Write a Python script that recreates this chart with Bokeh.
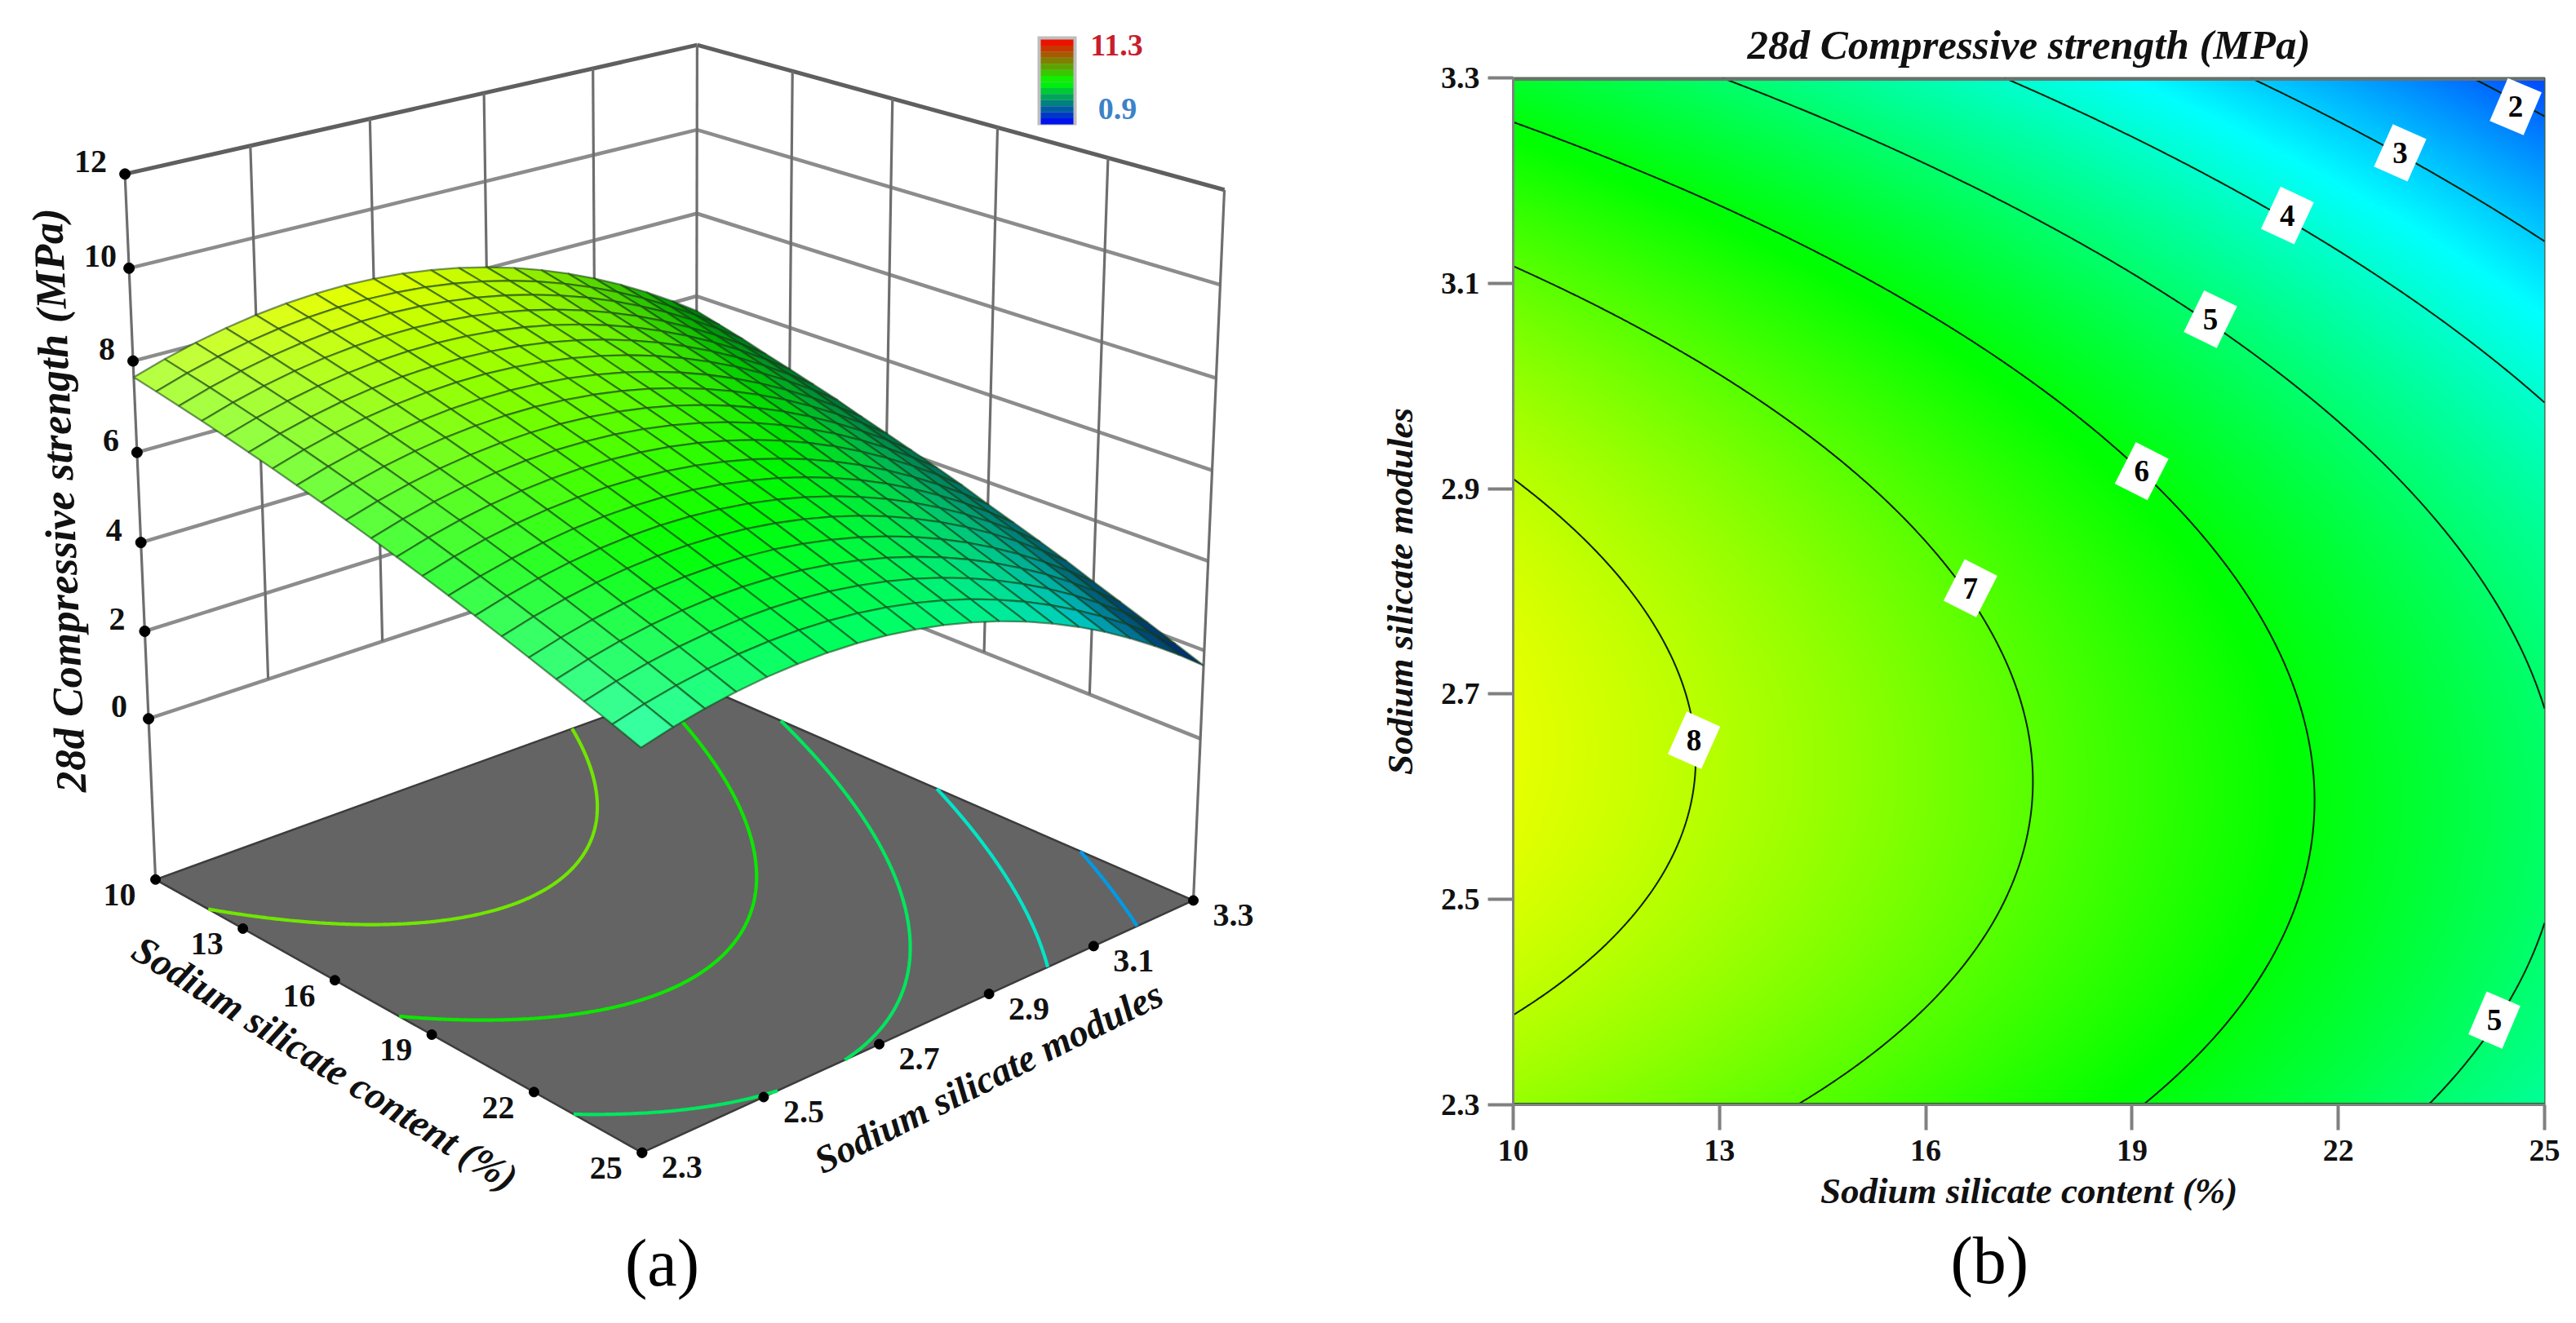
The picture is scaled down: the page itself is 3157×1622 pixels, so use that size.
import numpy as np
from bokeh.core.properties import value
from bokeh.embed import file_html
from bokeh.layouts import row
from bokeh.models import ColumnDataSource, FixedTicker, NumeralTickFormatter, Range1d, Title
from bokeh.plotting import figure
from bokeh.plotting.contour import contour_data
from bokeh.resources import INLINE

# ---------------- data ----------------
content_ticks = [10, 13, 16, 19, 22, 25]
modules_ticks = [2.3, 2.5, 2.7, 2.9, 3.1, 3.3]
strength_ticks = [0, 2, 4, 6, 8, 10, 12]
content_grid = [10 + 0.75 * k for k in range(21)]
modules_grid = [2.3 + 0.05 * j for j in range(21)]
# one row per modules value (2.30 ... 3.30), one column per content value (10 ... 25)
strength_rows = [
 [7.646,7.540,7.430,7.314,7.193,7.066,6.935,6.798,6.657,6.509,6.357,6.199,6.037,5.868,5.695,5.517,5.333,5.144,4.950,4.751,4.546],
 [7.860,7.752,7.640,7.521,7.398,7.269,7.136,6.996,6.853,6.703,6.549,6.389,6.224,6.053,5.878,5.698,5.511,5.320,5.124,4.923,4.716],
 [8.041,7.931,7.817,7.695,7.570,7.439,7.304,7.161,7.016,6.864,6.708,6.546,6.378,6.205,6.028,5.846,5.656,5.463,5.265,5.062,4.853],
 [8.189,8.077,7.961,7.836,7.709,7.576,7.439,7.293,7.146,6.992,6.834,6.670,6.499,6.324,6.145,5.961,5.768,5.573,5.373,5.168,4.957],
 [8.304,8.190,8.072,7.944,7.815,7.680,7.541,7.392,7.243,7.087,6.927,6.761,6.587,6.410,6.229,6.043,5.847,5.650,5.448,5.241,5.028],
 [8.386,8.270,8.150,8.019,7.888,7.751,7.610,7.458,7.307,7.149,6.987,6.819,6.642,6.463,6.280,6.092,5.893,5.694,5.490,5.281,5.066],
 [8.435,8.317,8.195,8.061,7.928,7.789,7.646,7.491,7.338,7.178,7.014,6.844,6.664,6.483,6.298,6.108,5.906,5.705,5.499,5.288,5.071],
 [8.451,8.331,8.207,8.070,7.935,7.794,7.649,7.491,7.336,7.174,7.008,6.836,6.653,6.470,6.283,6.091,5.886,5.683,5.475,5.262,5.043],
 [8.433,8.311,8.185,8.045,7.908,7.765,7.618,7.457,7.300,7.136,6.968,6.794,6.608,6.423,6.234,6.040,5.832,5.627,5.417,5.202,4.981],
 [8.382,8.258,8.130,7.987,7.848,7.703,7.554,7.390,7.231,7.065,6.895,6.719,6.530,6.343,6.152,5.956,5.745,5.538,5.326,5.109,4.886],
 [8.298,8.172,8.042,7.896,7.755,7.608,7.457,7.290,7.129,6.961,6.789,6.611,6.419,6.230,6.037,5.839,5.625,5.416,5.202,4.983,4.758],
 [8.181,8.053,7.921,7.772,7.629,7.480,7.327,7.157,6.994,6.824,6.650,6.470,6.275,6.084,5.889,5.689,5.472,5.261,5.045,4.824,4.597],
 [8.031,7.901,7.767,7.615,7.470,7.319,7.164,6.991,6.826,6.654,6.478,6.296,6.098,5.905,5.708,5.506,5.286,5.073,4.855,4.632,4.403],
 [7.848,7.716,7.580,7.425,7.278,7.125,6.968,6.792,6.625,6.451,6.273,6.089,5.888,5.693,5.494,5.290,5.067,4.852,4.632,4.407,4.176],
 [7.632,7.498,7.360,7.202,7.053,6.898,6.739,6.560,6.391,6.215,6.035,5.849,5.645,5.448,5.247,5.041,4.815,4.598,4.376,4.149,3.916],
 [7.383,7.247,7.107,6.946,6.795,6.638,6.477,6.295,6.124,5.946,5.764,5.576,5.369,5.170,4.967,4.759,4.530,4.311,4.087,3.858,3.623],
 [7.101,6.963,6.821,6.657,6.504,6.345,6.182,5.997,5.824,5.644,5.460,5.270,5.060,4.859,4.654,4.444,4.212,3.991,3.765,3.534,3.297],
 [6.785,6.645,6.501,6.334,6.179,6.018,5.853,5.665,5.490,5.308,5.122,4.930,4.717,4.514,4.307,4.095,3.860,3.637,3.409,3.176,2.937],
 [6.436,6.294,6.148,5.978,5.821,5.658,5.491,5.300,5.123,4.939,4.751,4.557,4.341,4.136,3.927,3.713,3.475,3.250,3.020,2.785,2.544],
 [6.054,5.910,5.762,5.589,5.430,5.265,5.096,4.902,4.723,4.537,4.347,4.151,3.932,3.725,3.514,3.298,3.057,2.830,2.598,2.361,2.118],
 [5.639,5.493,5.343,5.167,5.006,4.839,4.668,4.471,4.290,4.102,3.910,3.712,3.490,3.281,3.068,2.850,2.606,2.377,2.143,1.904,1.659],
]
contour_levels = [2, 3, 4, 5, 6, 7, 8]
floor_levels = [2.65, 3.85, 5.05, 6.25, 7.38]
label_text = ["2", "3", "4", "5", "6", "7", "8", "5"]
label_content = [24.58, 22.90, 21.26, 20.14, 19.14, 16.65, 12.63, 24.27]
label_modules = [3.272, 3.227, 3.166, 3.065, 2.917, 2.803, 2.655, 2.3825]
label_tilt = [23, 24, 25, 26, 27, 27, 24, 23]
scale_min, scale_max = 0.9, 11.3

SERIF = value("Liberation Serif")
LEFT_W, RIGHT_W, H = 1568, 1588, 1620

z_table = np.array(strength_rows)
c_arr = np.array(content_grid)
m_arr = np.array(modules_grid)


def rainbow(z):
    t = np.clip((np.asarray(z, float) - scale_min) / (scale_max - scale_min), 0, 1)
    r = np.clip((t - 0.5) / 0.25, 0, 1) * (t < 0.75) + (t >= 0.75)
    g = np.where(t < 0.25, t / 0.25, np.where(t > 0.75, (1 - t) / 0.25, 1.0))
    b = np.clip((0.5 - t) / 0.25, 0, 1) * (t > 0.25) + (t <= 0.25)
    return np.stack([r, g, b], axis=-1) * 255


def hexcol(rgb):
    return "#%02x%02x%02x" % tuple(int(round(float(np.clip(v, 0, 255)))) for v in rgb)


# smooth response surface through the table: only used to shade and to trace contours finely
cc, mm = np.meshgrid(c_arr, m_arr)
def basis(c, m):
    d, e = c - 10, m - 2.65
    return np.stack([np.ones_like(d), d, e, d * d, d * e, e * e], axis=-1)
coef, *_ = np.linalg.lstsq(basis(cc, mm).reshape(-1, 6), z_table.ravel(), rcond=None)
fine_c = np.linspace(10, 25, 421)
fine_m = np.linspace(2.3, 3.3, 421)
fc, fm = np.meshgrid(fine_c, fine_m)
fine_z = basis(fc, fm) @ coef

# ---------------- camera of the 3D panel ----------------
cal_world = np.array([
    [10, 2.3, 12], [10, 2.3, 0], [10, 2.3, -3.75],
    [25, 3.3, 12], [25, 3.3, 0], [25, 3.3, -3.75],
    [10, 3.3, 12], [10, 3.3, 6], [10, 3.3, -3.75],
    [25, 2.3, -3.75], [25, 2.3, 4.55], [10, 2.3, 7.65], [25, 3.3, 1.66],
], float)
cal_view = np.array([
    [149, 218], [182, 875], [192, 1080],
    [1505, 236], [1470, 900], [1460, 1107],
    [853, 57], [853, 356], [854, 843],
    [786, 1416], [786, 914], [164, 459], [1472, 812],
], float)


def norm3(a):
    a = np.asarray(a, float)
    return np.stack([(a[..., 0] - 10) / 15, a[..., 1] - 2.3, a[..., 2] / 12, np.ones(a.shape[:-1])], axis=-1)


W = norm3(cal_world)
rows, rhs = [], []
for w, (px, py) in zip(W, cal_view):
    rows.append(list(w) + [0, 0, 0, 0] + list(-px * w[:3]))
    rows.append([0, 0, 0, 0] + list(w) + list(-py * w[:3]))
    rhs += [px * w[3], py * w[3]]
sol, *_ = np.linalg.lstsq(np.array(rows), np.array(rhs), rcond=None)
CAM = np.append(sol, 1.0).reshape(3, 4)


def project(c, m, z):
    c, m, z = np.broadcast_arrays(np.asarray(c, float), np.asarray(m, float), np.asarray(z, float))
    h = norm3(np.stack([c, m, z], axis=-1)) @ CAM.T
    return h[..., 0] / h[..., 2], h[..., 1] / h[..., 2]


FLOOR = -3.75

# ---------------- left panel ----------------
p1 = figure(width=LEFT_W, height=H, x_range=Range1d(0, LEFT_W), y_range=Range1d(H, 0),
            toolbar_location=None, output_backend="svg", min_border=0)
p1.frame_align = False
p1.axis.visible = False
p1.grid.visible = False
p1.outline_line_color = None
p1.background_fill_color = "white"


def seg(c0, m0, z0, c1, m1, z1):
    x, y = project([c0, c1], [m0, m1], [z0, z1])
    return list(x), list(y)


# wall grid
hx, hy = [], []
for zv in strength_ticks[:-1]:
    for a in (seg(10, 2.3, zv, 10, 3.3, zv), seg(10, 3.3, zv, 25, 3.3, zv)):
        hx.append(a[0]); hy.append(a[1])
p1.multi_line(hx, hy, line_color="#8c8c8c", line_width=4.5)
tx, ty = [], []
for a in (seg(10, 2.3, 12, 10, 3.3, 12), seg(10, 3.3, 12, 25, 3.3, 12)):
    tx.append(a[0]); ty.append(a[1])
p1.multi_line(tx, ty, line_color="#5f5f5f", line_width=5)
vx, vy = [], []
for mv in modules_ticks[1:-1]:
    a = seg(10, mv, 0, 10, mv, 12); vx.append(a[0]); vy.append(a[1])
for cv in content_ticks[1:-1]:
    a = seg(cv, 3.3, 0, cv, 3.3, 12); vx.append(a[0]); vy.append(a[1])
a = seg(10, 3.3, 0, 10, 3.3, 12); vx.append(a[0]); vy.append(a[1])
a = seg(10, 2.3, FLOOR, 10, 2.3, 12); vx.append(a[0]); vy.append(a[1])
a = seg(25, 3.3, FLOOR, 25, 3.3, 12); vx.append(a[0]); vy.append(a[1])
p1.multi_line(vx, vy, line_color="#6e6e6e", line_width=3.2)

# floor
fx, fy = project([10, 25, 25, 10], [2.3, 2.3, 3.3, 3.3], FLOOR)
p1.patch(list(fx), list(fy), fill_color="#646464", line_color="#3c3c3c", line_width=2.5)
cd = contour_data(fine_c, fine_m, fine_z, floor_levels, want_fill=False, want_line=True)
for lev, xs, ys in zip(floor_levels, cd.line_data.xs, cd.line_data.ys):
    lx, ly = project(np.array(xs), np.array(ys), FLOOR)
    p1.line(list(lx), list(ly), line_color=hexcol(rainbow(lev) * 0.9), line_width=4.2)

# surface: far corner first
px_g, py_g = project(cc, mm, z_table)
quads = []
for j in range(20):
    for k in range(20):
        quads.append((k - j, j, k))
quads.sort()
qx, qy, qcol = [], [], []
for _, j, k in quads:
    qx.append([px_g[j, k], px_g[j, k + 1], px_g[j + 1, k + 1], px_g[j + 1, k]])
    qy.append([py_g[j, k], py_g[j, k + 1], py_g[j + 1, k + 1], py_g[j + 1, k]])
    zc = z_table[j:j + 2, k:k + 2].mean()
    dz = 0.5 * (z_table[j + 1, k] - z_table[j, k] + z_table[j + 1, k + 1] - z_table[j, k + 1])
    col = rainbow(zc)
    if dz > 0:
        col = col + (255 - col) * 0.27 * min(1.0, dz / 0.22)
    else:
        col = col * (1 - 0.55 * min(1.0, abs(dz) / 0.43) ** 3)
    qcol.append(hexcol(col))
p1.patches(qx, qy, fill_color=qcol, line_color="#123a12", line_alpha=0.55, line_width=2.3)

# tick dots
dx, dy = project(10, 2.3, np.array(strength_ticks, float))
p1.scatter(list(dx), list(dy), size=13, color="black")
cx, cy = project(np.array(content_ticks, float), 2.3, FLOOR)
p1.scatter(list(cx), list(cy), size=12, color="black")
mx, my = project(25, np.array(modules_ticks, float), FLOOR)
p1.scatter(list(mx), list(my), size=12, color="black")
# tick labels
p1.text(list(dx), list(dy), text=[str(v) for v in strength_ticks], text_font=SERIF, text_font_style="bold",
        text_font_size="40px", text_color="#111111", text_align="center", text_baseline="middle",
        x_offset=[-36, -34, -33, -32, -32, -35, -42], y_offset=-15)
p1.text(list(cx), list(cy), text=[str(v) for v in content_ticks], text_font=SERIF, text_font_style="bold",
        text_font_size="40px", text_color="#111111", text_align="center", text_baseline="middle",
        x_offset=-44, y_offset=19)
p1.text(list(mx), list(my), text=["%.1f" % v for v in modules_ticks], text_font=SERIF, text_font_style="bold",
        text_font_size="40px", text_color="#111111", text_align="center", text_baseline="middle",
        x_offset=49, y_offset=18)

axis_text = dict(text_font=SERIF, text_font_style="bold italic", text_color="#111111",
                 text_align="center", text_baseline="middle", angle_units="deg")
p1.text([72], [613], text=["28d Compressive strength (MPa)"], text_font_size="53px", angle=92.4, **axis_text)
p1.text([398], [1303], text=["Sodium silicate content (%)"], text_font_size="48px", angle=-32, **axis_text)
p1.text([1211], [1320], text=["Sodium silicate modules"], text_font_size="47px", angle=26.5, **axis_text)

# colour key
p1.quad(left=[1271], right=[1319], top=[44], bottom=[153], fill_color="#bdbdbd", line_color=None)
steps = np.linspace(scale_min, scale_max, 15)
tops = 152 - (steps[1:] - scale_min) / (scale_max - scale_min) * 104
bots = 152 - (steps[:-1] - scale_min) / (scale_max - scale_min) * 104
key_cols = []
for s in 0.5 * (steps[1:] + steps[:-1]):
    t = (s - scale_min) / (scale_max - scale_min)
    key_cols.append(hexcol([max(0, 2 * t - 1) * 255, (1 - abs(2 * t - 1)) * 255, max(0, 1 - 2 * t) * 255]))
p1.quad(left=1275, right=1315, top=list(tops), bottom=list(bots), fill_color=key_cols, line_color=None)
p1.text([1368], [55], text=["%.1f" % scale_max], text_font=SERIF, text_font_style="bold", text_font_size="38px",
        text_color="#c81e2d", text_align="center", text_baseline="middle")
p1.text([1369], [133], text=["%.1f" % scale_min], text_font=SERIF, text_font_style="bold", text_font_size="38px",
        text_color="#3c82c8", text_align="center", text_baseline="middle")
p1.text([811], [1548], text=["(a)"], text_font=SERIF, text_font_size="82px", text_color="black",
        text_align="center", text_baseline="middle")

# ---------------- right panel ----------------
FL, FT, FW, FH = 286, 95, 1264, 1259
p2 = figure(width=RIGHT_W, height=H, x_range=Range1d(10, 25), y_range=Range1d(2.3, 3.3),
            toolbar_location=None, output_backend="svg",
            min_border_left=FL, min_border_top=FT, min_border_right=RIGHT_W - FL - FW,
            min_border_bottom=H - FT - FH, title="28d Compressive strength (MPa)")
p2.frame_align = False
p2.title.align = "center"
p2.title.text_font = "Liberation Serif"
p2.title.text_font_style = "bold italic"
p2.title.text_font_size = "51px"
p2.title.text_color = "#111111"
p2.title.standoff = 25
p2.grid.visible = False
p2.outline_line_color = "#3f5f3f"
p2.outline_line_width = 2

for ax, ticks in ((p2.xaxis[0], content_ticks), (p2.yaxis[0], modules_ticks)):
    ax.ticker = FixedTicker(ticks=ticks)
    ax.major_tick_out = 31
    ax.major_tick_in = 0
    ax.minor_tick_out = 0
    ax.minor_tick_in = 0
    ax.major_tick_line_color = "#808080"
    ax.major_tick_line_width = 4
    ax.axis_line_color = "#808080"
    ax.axis_line_width = 3
    ax.major_label_text_font = "Liberation Serif"
    ax.major_label_text_font_style = "bold"
    ax.major_label_text_font_size = "38px"
    ax.major_label_text_color = "#111111"
    ax.axis_label_text_font = "Liberation Serif"
    ax.axis_label_text_font_style = "bold italic"
    ax.axis_label_text_font_size = "45px"
    ax.axis_label_text_color = "#111111"
p2.xaxis[0].major_label_standoff = 12
p2.yaxis[0].major_label_standoff = 10
p2.xaxis[0].axis_label = "Sodium silicate content (%)"
p2.yaxis[0].axis_label = "Sodium silicate modules"
p2.xaxis[0].axis_label_standoff = 9
p2.yaxis[0].axis_label_standoff = 22
p2.yaxis[0].formatter = NumeralTickFormatter(format="0.0")

rgb = rainbow(fine_z).astype(np.uint32)
img = (255 << 24) | (rgb[..., 2] << 16) | (rgb[..., 1] << 8) | rgb[..., 0]
p2.image_rgba(image=[img.astype(np.uint32)], x=10, y=2.3, dw=15, dh=1)
p2.contour(fine_c, fine_m, fine_z, contour_levels, line_color="#0a1f0a", line_width=2)
p2.line([10, 25], [3.3, 3.3], line_color="#707070", line_width=7)
p2.line([10, 25], [2.3, 2.3], line_color="#1f5f1f", line_width=5)

src = ColumnDataSource(dict(x=label_content, y=label_modules, t=label_text, a=[-v for v in label_tilt]))
p2.rect("x", "y", source=src, width=45, height=57, width_units="screen", height_units="screen",
        angle="a", angle_units="deg", fill_color="white", line_color=None)
p2.text("x", "y", text="t", source=src, text_font=SERIF, text_font_style="bold", text_font_size="37px",
        text_color="black", text_align="center", text_baseline="middle")
panel_b = Title(text="(b)", align="left", offset=2436 - 1854 - 46, standoff=21,
                text_font="Liberation Serif", text_font_size="82px", text_font_style="normal", text_color="black")
p2.add_layout(panel_b, "below")

layout = row(p1, p2)
open("out.html", "w").write(file_html(layout, INLINE))
